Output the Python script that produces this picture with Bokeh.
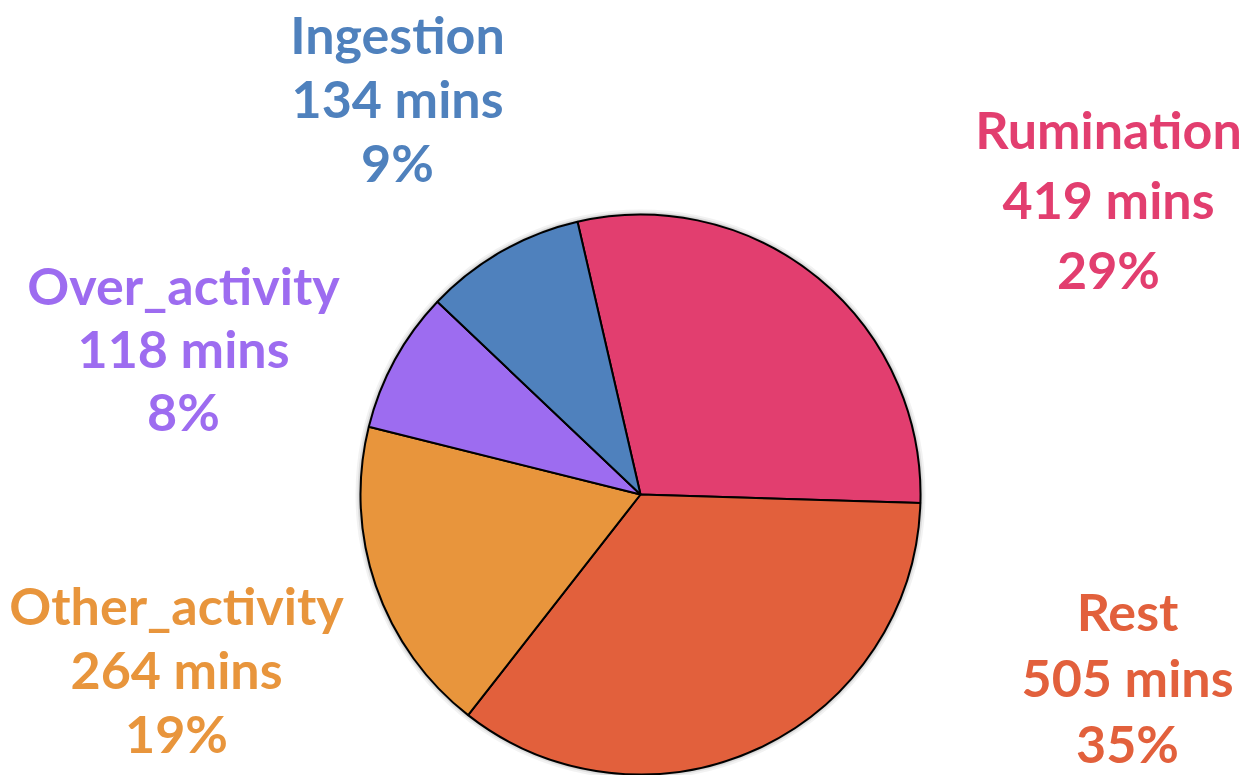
import math
from bokeh.plotting import figure
from bokeh.models import Range1d, ColumnDataSource
from bokeh.core.properties import value
from bokeh.embed import file_html
from bokeh.resources import INLINE

# Data
categories = ["Rumination", "Rest", "Other_activity", "Over_activity", "Ingestion"]
minutes = [419, 505, 264, 118, 134]
percent_labels = ["29%", "35%", "19%", "8%", "9%"]
colors = ["#e23e6f", "#e2603c", "#e8953c", "#9d6cf0", "#4f81bd"]

W, H = 1252, 775
cx, cy, R = 640, H - 494, 280
start_deg = 103.0

total = sum(minutes)
starts, ends = [], []
acc = 0.0
for m in minutes:
    a0 = start_deg - acc / total * 360.0
    acc += m
    a1 = start_deg - acc / total * 360.0
    starts.append(math.radians(a0))
    ends.append(math.radians(a1))

p = figure(width=W, height=H, output_backend="svg", toolbar_location=None,
           x_range=Range1d(0, W), y_range=Range1d(0, H), min_border=0,
           outline_line_color=None, background_fill_color="white")
p.axis.visible = False
p.grid.visible = False

# soft shadow
for r, a in [(R + 5, 0.05), (R + 3, 0.08), (R + 1.5, 0.12)]:
    p.circle(x=[cx], y=[cy], radius=r, fill_color="#000000", fill_alpha=a, line_color=None)

src = ColumnDataSource(dict(x=[cx] * len(minutes), y=[cy] * len(minutes),
                            s=starts, e=ends, c=colors))
p.wedge(x="x", y="y", radius=R, start_angle="s", end_angle="e", direction="clock",
        fill_color="c", line_color="black", line_width=2, source=src)

# label positions (centre x, first-line centre y in screen px, line spacing)
label_pos = {
    "Rumination": (1108, 128, 70),
    "Rest": (1127, 610, 66),
    "Other_activity": (176, 604, 64),
    "Over_activity": (183, 284, 63),
    "Ingestion": (397, 33, 64),
}

xs, ys, txt, tc = [], [], [], []
for cat, m, pl, col in zip(categories, minutes, percent_labels, colors):
    lx, ly, sp = label_pos[cat]
    for k, line in enumerate([cat, f"{m} mins", pl]):
        xs.append(lx)
        ys.append(H - (ly + k * sp))
        txt.append(line)
        tc.append(col)

p.text(x=xs, y=ys, text=txt, text_color=tc, text_font=value("Lato"),
       text_font_style="bold", text_font_size="52px", text_align="center",
       text_baseline="middle")

open("out.html", "w").write(file_html(p, INLINE))
